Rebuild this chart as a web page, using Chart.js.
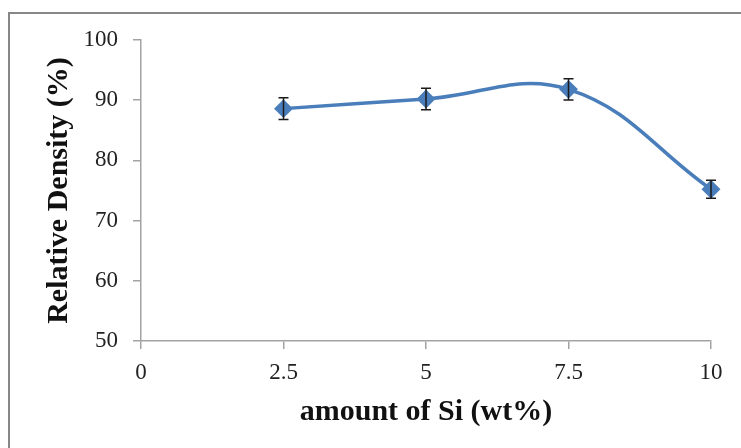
<!DOCTYPE html>
<html>
<head>
<meta charset="utf-8">
<script src="https://cdn.jsdelivr.net/npm/chart.js@4"></script>
<style>
  html, body { margin: 0; padding: 0; background: #fff; overflow: hidden; }
  #wrap { position: relative; width: 741px; height: 448px; overflow: hidden; }
  #frame { position: absolute; left: 8px; top: 12px; width: 800px; height: 500px;
           border-top: 2px solid #878787; border-left: 2px solid #878787; pointer-events: none; }
  canvas { position: absolute; left: 0; top: 0; }
</style>
</head>
<body>
<div id="wrap">
  <canvas id="chart" width="741" height="448"></canvas>
  <div id="frame"></div>
</div>
<script>
// data
const siAmount = [2.5, 5, 7.5, 10];
const density = [88.6, 90.2, 91.8, 75.2];
const densityErr = [1.8, 1.8, 1.75, 1.5];
const xTicks = [0, 2.5, 5, 7.5, 10];
const yTicks = [50, 60, 70, 80, 90, 100];

const serif = "'Liberation Serif', 'Times New Roman', serif";
const axisGray = '#a3a3a3';

// error bars drawn through the chart's own scales
const errorBars = {
    id: 'errorBars',
    afterDatasetsDraw(chart) {
        const { ctx, scales: { x, y } } = chart;
        ctx.save();
        ctx.strokeStyle = '#1a1a1a';
        ctx.lineWidth = 1.5;
        siAmount.forEach((v, i) => {
            const px = x.getPixelForValue(v);
            const top = y.getPixelForValue(density[i] + densityErr[i]);
            const bot = y.getPixelForValue(density[i] - densityErr[i]);
            ctx.beginPath();
            ctx.moveTo(px, top); ctx.lineTo(px, bot);
            ctx.moveTo(px - 5, top); ctx.lineTo(px + 5, top);
            ctx.moveTo(px - 5, bot); ctx.lineTo(px + 5, bot);
            ctx.stroke();
        });
        ctx.restore();
    }
};

new Chart(document.getElementById('chart'), {
    type: 'line',
    data: {
        datasets: [{
            data: siAmount.map((v, i) => ({ x: v, y: density[i] })),
            borderColor: '#4a7ebb',
            backgroundColor: '#4a7ebb',
            borderWidth: 3.5,
            tension: 0.4,
            pointStyle: 'rectRot',
            pointRadius: 7,
            pointHoverRadius: 7,
            clip: false,
            fill: false
        }]
    },
    options: {
        responsive: false,
        devicePixelRatio: 1,
        animation: false,
        events: [],
        layout: { padding: { top: 40, right: 30, bottom: 0, left: 0 } },
        plugins: { legend: { display: false }, tooltip: { enabled: false } },
        scales: {
            x: {
                type: 'linear',
                min: 0,
                max: 10,
                afterBuildTicks: s => { s.ticks = xTicks.map(v => ({ value: v })); },
                afterFit: s => { s.height = 448 - 341; },
                border: { color: axisGray, width: 1.5 },
                grid: { drawOnChartArea: false, color: axisGray, lineWidth: 1.5, tickLength: 8 },
                ticks: { color: '#222', padding: 10, font: { family: serif, size: 23 },
                         callback: v => String(v) },
                title: { display: true, text: 'amount of Si (wt%)', color: '#111',
                         font: { family: serif, size: 30, weight: 'bold' },
                         padding: { top: 0, bottom: 18 } }
            },
            y: {
                min: 50,
                max: 100,
                afterBuildTicks: s => { s.ticks = yTicks.map(v => ({ value: v })); },
                afterFit: s => { s.width = 141; },
                border: { color: axisGray, width: 1.5 },
                grid: { drawOnChartArea: false, color: axisGray, lineWidth: 1.5, tickLength: 8 },
                ticks: { color: '#222', padding: 15, font: { family: serif, size: 23 } },
                title: { display: true, text: 'Relative Density (%)', color: '#111',
                         font: { family: serif, size: 30, weight: 'bold' },
                         padding: { top: 41, bottom: 0 } }
            }
        }
    },
    plugins: [errorBars]
});
</script>
</body>
</html>
